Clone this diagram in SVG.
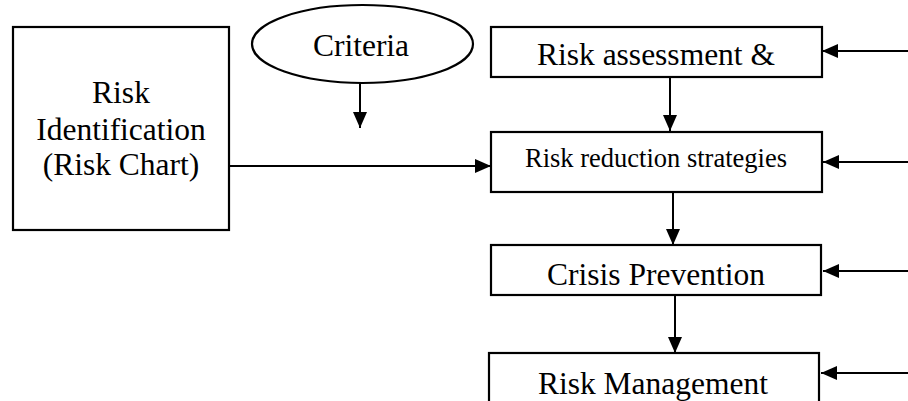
<svg xmlns="http://www.w3.org/2000/svg" width="908" height="401" viewBox="0 0 908 401">
  <style>
    .box { fill: #fff; stroke: #000; stroke-width: 2.2; }
    .lbl { font-family: "Liberation Serif", "Times New Roman", serif; font-size: 31.5px; fill: #000; text-anchor: middle; }
    .sm { font-size: 26.5px; }
    .conn { stroke: #000; stroke-width: 2; fill: none; }
  </style>
  <defs>
    <marker id="ah" markerUnits="userSpaceOnUse" viewBox="0 0 16 14" refX="16" refY="7" markerWidth="16" markerHeight="14" orient="auto">
      <path d="M0,0 L16,7 L0,14 Z" fill="#000"/>
    </marker>
  </defs>
  <rect width="908" height="401" fill="#fff"/>

  <g id="risk-identification">
    <rect class="box" x="13" y="27" width="216" height="203"/>
    <text class="lbl" x="121" y="103">Risk</text>
    <text class="lbl" x="121" y="140">Identification</text>
    <text class="lbl" x="121" y="175">(Risk Chart)</text>
  </g>

  <g id="criteria">
    <ellipse class="box" cx="362.5" cy="44" rx="110.5" ry="39" stroke-width="1.8"/>
    <text class="lbl" x="361" y="56">Criteria</text>
  </g>

  <g id="risk-assessment">
    <rect class="box" x="491" y="27" width="331" height="50"/>
    <text class="lbl" x="656" y="65">Risk assessment &amp;</text>
  </g>

  <g id="risk-reduction">
    <rect class="box" x="491" y="132" width="331" height="60"/>
    <text class="lbl sm" x="656" y="167">Risk reduction strategies</text>
  </g>

  <g id="crisis-prevention">
    <rect class="box" x="491" y="245" width="330" height="50"/>
    <text class="lbl" x="656" y="285">Crisis Prevention</text>
  </g>

  <g id="risk-management">
    <rect class="box" x="489" y="353" width="330" height="60"/>
    <text class="lbl" x="653" y="394">Risk Management</text>
  </g>

  <g id="connectors">
    <line class="conn" x1="360" y1="83" x2="360" y2="128" marker-end="url(#ah)"/>
    <line class="conn" x1="229" y1="166" x2="491" y2="166" marker-end="url(#ah)"/>
    <line class="conn" x1="670" y1="77" x2="670" y2="131" marker-end="url(#ah)"/>
    <line class="conn" x1="673" y1="192" x2="673" y2="245" marker-end="url(#ah)"/>
    <line class="conn" x1="675" y1="295" x2="675" y2="353" marker-end="url(#ah)"/>
    <line class="conn" x1="908" y1="51" x2="822" y2="51" marker-end="url(#ah)"/>
    <line class="conn" x1="908" y1="162" x2="823" y2="162" marker-end="url(#ah)"/>
    <line class="conn" x1="908" y1="271" x2="823" y2="271" marker-end="url(#ah)"/>
    <line class="conn" x1="908" y1="373" x2="821" y2="373" marker-end="url(#ah)"/>
  </g>
</svg>
